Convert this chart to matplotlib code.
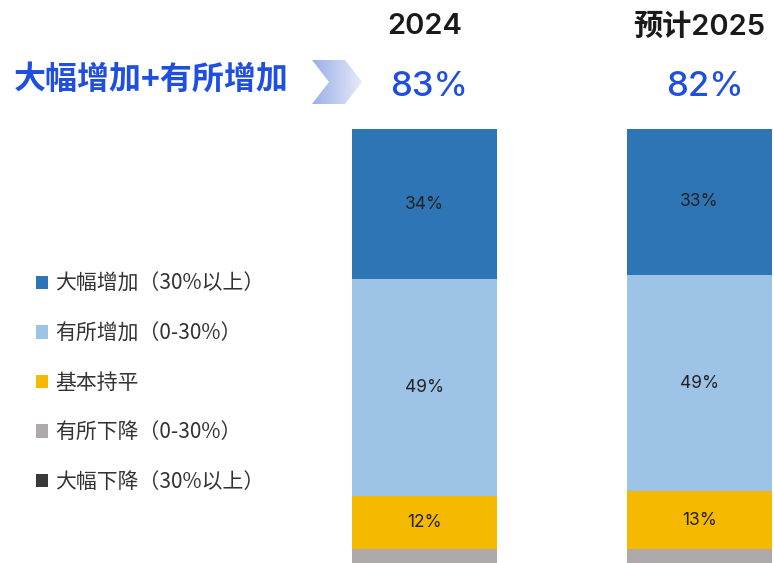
import matplotlib
matplotlib.use("Agg")
import matplotlib.pyplot as plt
import numpy as np
from matplotlib.patches import Polygon, Patch
from matplotlib.colors import LinearSegmentedColormap
import matplotlib.transforms as mtransforms

plt.rcParams['font.family'] = ['Noto Sans CJK SC', 'DejaVu Sans']
LATIN = ['Inter', 'Noto Sans CJK SC', 'DejaVu Sans']

years = ["2024", "预计2025"]
totals = ["83%", "82%"]
series_names = ["大幅下降（30%以上）", "有所下降（0-30%）", "基本持平", "有所增加（0-30%）", "大幅增加（30%以上）"]
big_down = [1, 1]
some_down = [4, 4]
flat = [12, 13]
some_up = [49, 49]
big_up = [34, 33]
colors = ["#3B3838", "#AEAAAA", "#F5BA00", "#9DC3E6", "#2E75B6"]
headline = "大幅增加+有所增加"

W, H = 774, 563
fig = plt.figure(figsize=(W/100, H/100), dpi=100)

# axes: data y=100 at pixel 129, bottom of image cut off
ax = fig.add_axes([0, 0, 1, 1 - 129/H])
ax.set_xlim(-424.5/275, (W-424.5)/275)
ax.set_ylim(100 - (H-129)/4.42, 100)
ax.axis('off')

x = np.arange(len(years))
stack = [big_down, some_down, flat, some_up, big_up]
bottom = np.zeros(len(years))
width = 145/275
for vals, c, name in zip(stack, colors, series_names):
    vals = np.array(vals, dtype=float)
    ax.bar(x, vals, width, bottom=bottom, color=c, edgecolor='none', label=name)
    for xi, v, b in zip(x, vals, bottom):
        if v >= 10:
            ax.text(xi, b + v/2, f"{int(v)}%", ha='center', va='center',
                    fontsize=12.5, color='#222222', family=LATIN)
    bottom += vals

# column headers
x0, x1 = ax.get_xlim()
shift = mtransforms.ScaledTranslation(5/100, 0, fig.dpi_scale_trans)
for xi, yr, tot in zip(x, years, totals):
    xf = (xi - x0) / (x1 - x0)
    fig.text(xf, 1 - 27/H, yr, ha='center', va='center', fontsize=21,
             fontweight='semibold', color='#1A1A1A', family=LATIN)
    fig.text(xf, 1 - 87/H, tot, ha='center', va='center', fontsize=25,
             fontweight='medium', color='#1F4FE0', family=LATIN,
             transform=fig.transFigure + shift)

fig.text(14/W, 1 - 80/H, headline, ha='left', va='center', fontsize=23,
         fontweight='bold', color='#1F4FE0')

# chevron arrow with gradient
pax = fig.add_axes([0, 0, 1, 1])
pax.set_xlim(0, W); pax.set_ylim(H, 0); pax.axis('off')
pts = [(312, 60), (345, 60), (362, 82), (345, 104), (312, 104), (329, 82)]
poly = Polygon(pts, closed=True, facecolor='none', edgecolor='none')
pax.add_patch(poly)
grad = np.linspace(0, 1, 256).reshape(1, -1)
cmap = LinearSegmentedColormap.from_list('g', ['#9AAEE8', '#E6EBF9'])
im = pax.imshow(grad, extent=(312, 362, 104, 60), cmap=cmap, aspect='auto')
im.set_clip_path(poly)

# legend
handles = [Patch(facecolor=c, edgecolor='none') for c in colors][::-1]
labels = series_names[::-1]
fig.legend(handles, labels, loc='upper left', bbox_to_anchor=(17/W, 1 - 254/H),
           frameon=False, fontsize=15, labelspacing=1.32, handlelength=0.6,
           handleheight=0.6, handletextpad=0.35, labelcolor='#333333')

fig.savefig("out.png", dpi=100)
